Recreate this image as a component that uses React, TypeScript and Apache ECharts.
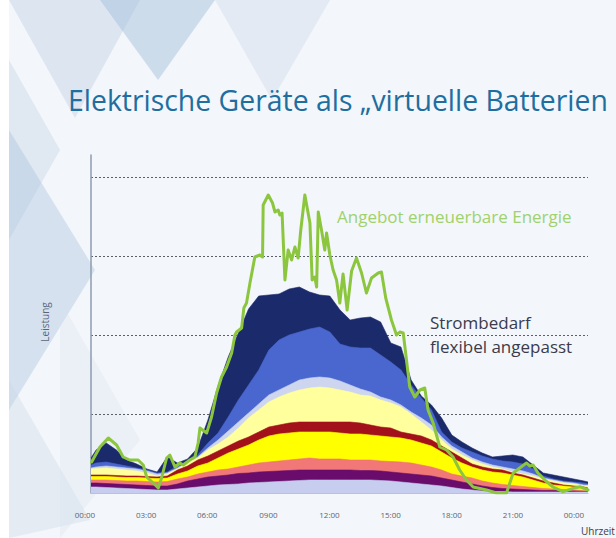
import React, { useEffect, useRef } from "react";
import * as echarts from "echarts";

// time of day in hours for the stacked demand layers
const HOURS = [0.25, 0.5, 1, 1.5, 2, 2.5, 3, 3.5, 4, 4.5, 5, 5.5, 6, 6.5, 7, 7.5, 8, 8.5, 9, 9.5, 10, 10.5, 11, 11.5, 12, 12.5, 13, 13.5, 14, 14.5, 15, 15.5, 16, 16.5, 17, 17.5, 18, 18.5, 19, 19.5, 20, 20.5, 21, 21.5, 22, 22.5, 23, 23.5, 24, 24.5, 24.7];

// cumulative demand (top edge of each layer), arbitrary power units
const L9_NAVY = [35, 43, 50, 43, 33, 29, 24, 21, 36, 30, 34, 45, 73, 107, 136, 160, 184, 197, 198, 199, 204, 206, 201, 198, 197, 183, 173, 175, 176, 171, 150, 146, 113, 97, 88, 75, 58, 51, 45, 40, 36, 37, 38, 36, 28, 20, 18, 16, 14, 12, 11];
const L8_BLUE = [28, 30, 31, 29, 27, 25, 23, 20, 21, 27, 32, 38, 50, 60, 76, 93, 108, 123, 143, 153, 158, 161, 164, 166, 161, 149, 146, 145, 145, 138, 131, 123, 108, 95, 83, 61, 51, 45, 41, 37, 34, 32, 31, 29, 24, 17, 14, 12, 11, 10, 9];
const L7_PALEBLUE = [25, 26, 27, 26, 25, 24, 22, 19, 20, 25, 31, 36, 45, 53, 62, 71, 80, 89, 98, 103, 108, 113, 115, 116, 115, 112, 108, 104, 101, 96, 93, 88, 81, 75, 68, 56, 47, 41, 35, 31, 28, 26, 24, 22, 19, 15, 13, 11, 10, 8, 8];
const L6_PALEYELLOW = [24, 24.5, 25, 24, 23, 22, 20, 17, 19, 24, 30, 35, 43, 49, 56, 65, 75, 83, 91, 96, 100, 103, 105, 106, 105, 103, 101, 98, 97, 93, 90, 86, 79, 71, 63, 53, 44, 38, 33, 29, 26, 24, 21, 19, 17, 14, 12, 10, 9, 7, 7];
const L5_DARKRED = [18, 18, 18, 17.5, 17, 17, 16.5, 16, 17, 23, 27, 33, 37, 42, 47, 52, 56, 61, 66, 68, 70, 71, 71, 71, 71, 71, 71, 70, 68, 66, 65, 61, 59, 57, 53, 47, 41, 35, 29, 26, 24, 23, 20, 18, 15, 12, 10, 8, 7, 6, 5];
const L4_YELLOW = [16.5, 16.5, 16.5, 16, 15.5, 15.5, 15, 14.5, 15, 19, 22, 27, 30, 35, 40, 44, 48, 53, 57, 59, 60, 61, 61, 61, 61, 60, 59, 59, 58, 57, 56, 55, 53, 50, 47, 41, 35, 30, 26, 23, 21, 20, 18, 16, 13, 10, 8, 7, 6, 4.5, 4];
const L3_SALMON = [13, 13, 13, 12.5, 12, 12, 11.5, 11, 11.5, 14, 16, 19, 21, 23, 24, 26, 28, 30, 31, 32, 33, 34, 35, 34, 34, 34, 33, 33, 33, 32, 31.5, 31, 30, 28, 26, 23, 19, 17, 15, 12, 10, 8.5, 7.5, 6.5, 5.5, 4.5, 4, 3.5, 3, 2.5, 2];
const L2_PURPLE = [10, 10, 9.5, 9, 8.5, 8, 7.5, 7, 7, 9, 12, 14, 16, 17, 18, 19.5, 20, 21, 21.5, 22, 22.5, 23, 23, 23, 23, 23, 23, 22.5, 22.5, 22, 21, 20, 19, 18, 17, 15, 13, 11, 9, 7, 5.5, 4.5, 4, 3.5, 3, 2.5, 2.5, 2, 2, 1.5, 1.5];
const L1_LAVENDER = [6, 6, 5.5, 5, 4.5, 4, 3.5, 3, 3, 4, 5, 6, 7, 8, 8.5, 9, 10, 10.5, 11, 11.5, 12, 12.5, 13, 13, 13, 13, 13, 13, 13, 12.5, 12, 11, 10, 9, 8, 7, 5.5, 4, 3, 2, 1.5, 1.5, 1, 1, 1, 1, 1, 1, 1, 1, 1];

// renewable supply
const SUPPLY_HOURS = [0.28, 0.69, 1.1, 1.51, 1.83, 2.16, 2.57, 2.82, 2.99, 3.31, 3.56, 3.72, 3.97, 4.13, 4.38, 4.62, 4.79, 5.11, 5.36, 5.52, 5.61, 5.94, 6.18, 6.43, 6.67, 6.92, 7.17, 7.33, 7.41, 7.66, 7.77, 7.9, 8.07, 8.31, 8.56, 8.69, 8.72, 8.97, 9.18, 9.3, 9.46, 9.54, 9.65, 9.79, 9.95, 10.12, 10.28, 10.44, 10.57, 10.77, 11.02, 11.13, 11.26, 11.35, 11.43, 11.59, 11.75, 11.84, 12.0, 12.16, 12.33, 12.49, 12.65, 12.85, 13.07, 13.31, 13.56, 13.8, 14.05, 14.38, 14.54, 14.75, 15.03, 15.28, 15.44, 15.61, 15.77, 15.93, 16.18, 16.43, 16.67, 16.83, 17.08, 17.41, 17.74, 18.06, 18.39, 18.72, 19.05, 19.71, 20.2, 20.69, 21.02, 21.34, 21.67, 21.84, 22.0, 22.24, 22.57, 22.98, 23.47, 23.97, 24.3, 24.7];
const SUPPLY = [31, 46, 55, 48, 36, 33, 33, 28, 16, 10, 5, 15, 35, 38, 26, 30, 28, 33, 36, 50, 65, 60, 76, 100, 116, 126, 140, 158, 161, 165, 185, 190, 210, 236, 238, 236, 288, 298, 290, 281, 283, 278, 280, 213, 243, 233, 246, 235, 263, 298, 270, 213, 216, 206, 281, 263, 243, 260, 238, 223, 213, 190, 219, 183, 222, 235, 220, 200, 215, 220, 221, 195, 173, 158, 161, 160, 133, 106, 96, 103, 105, 83, 70, 46, 43, 36, 23, 13, 6, 3, 0, 0, 20, 25, 30, 27, 28, 20, 13, 6, 1.3, 4.7, 6.3, 3];

const TICK_LABELS = ["00:00", "03:00", "06:00", "0900", "12:00", "15:00", "18:00", "21:00", "00:00"];

const LAYERS: { data: number[]; color: string }[] = [
  { data: L9_NAVY, color: "#1b2a6b" },
  { data: L8_BLUE, color: "#4a67cf" },
  { data: L7_PALEBLUE, color: "#cdd5ef" },
  { data: L6_PALEYELLOW, color: "#ffff9e" },
  { data: L5_DARKRED, color: "#a3111a" },
  { data: L4_YELLOW, color: "#ffff00" },
  { data: L3_SALMON, color: "#f27777" },
  { data: L2_PURPLE, color: "#6a0c6c" },
  { data: L1_LAVENDER, color: "#c6cdef" },
];

export default function App() {
  const ref = useRef<HTMLDivElement>(null);
  useEffect(() => {
    document.body.style.margin = "0";
    const chart = echarts.init(ref.current!, null, { renderer: "svg" });
    const font = "'Open Sans', 'Noto Sans', sans-serif";
    const layerSeries = LAYERS.map((l, k) => ({
      type: "line",
      xAxisIndex: 0,
      yAxisIndex: 0,
      data: HOURS.map((h, i) => [h, l.data[i]]),
      symbol: "none",
      lineStyle: { width: 0.6, color: l.color },
      areaStyle: { color: l.color, opacity: 1 },
      z: 3 + k,
      silent: true,
    }));
    const bg = (points: number[][], color: string) => ({
      type: "polygon",
      shape: { points },
      style: { fill: color },
      z: -10,
      silent: true,
    });
    chart.setOption({
      animation: false,
      backgroundColor: "#f3f6fa",
      grid: [
        { left: 91, right: 28, top: 155, bottom: 45 },
        { left: 85, right: 42, top: 155, bottom: 45 },
      ],
      xAxis: [
        {
          gridIndex: 0,
          type: "value",
          min: 0.25,
          max: 24.7,
          axisLine: { show: true, lineStyle: { color: "#b9c3d2", width: 1 } },
          axisTick: { show: false },
          axisLabel: { show: false },
          splitLine: { show: false },
        },
        {
          gridIndex: 1,
          type: "value",
          min: 0,
          max: 24,
          interval: 3,
          axisLine: { show: false },
          axisTick: { show: false },
          splitLine: { show: false },
          axisLabel: {
            margin: 17,
            fontSize: 8,
            color: "#60656d",
            fontFamily: font,
            formatter: (v: number) => TICK_LABELS[Math.round(v / 3)] ?? "",
          },
        },
      ],
      yAxis: [
        {
          gridIndex: 0,
          type: "value",
          min: 0,
          max: 338,
          interval: 79,
          axisLine: { show: true, lineStyle: { color: "#8e9cb0", width: 1.5 } },
          axisTick: { show: false },
          axisLabel: { show: false },
          splitLine: {
            show: true,
            showMinLine: false,
            showMaxLine: false,
            lineStyle: { color: "#5b5f66", width: 1, type: [2, 2] },
          },
        },
        { gridIndex: 1, type: "value", show: false, min: 0, max: 338 },
      ],
      series: [
        ...layerSeries,
        {
          type: "line",
          xAxisIndex: 0,
          yAxisIndex: 0,
          data: SUPPLY_HOURS.map((h, i) => [h, SUPPLY[i]]),
          symbol: "none",
          lineStyle: { color: "#8cc63f", width: 3, join: "round", cap: "round" },
          z: 20,
          silent: true,
        },
      ],
      graphic: [
        { type: "rect", shape: { x: 0, y: 0, width: 9, height: 538 }, style: { fill: "#ffffff" }, z: -9, silent: true },
        bg([[9, 0], [140, 0], [75, 118]], "rgba(188,206,228,0.4)"),
        bg([[100, 0], [215, 0], [158, 80]], "rgba(160,188,218,0.45)"),
        bg([[215, 0], [330, 0], [272, 100]], "rgba(205,218,233,0.4)"),
        bg([[9, 60], [60, 150], [9, 240]], "rgba(195,212,230,0.4)"),
        bg([[9, 130], [95, 270], [9, 410]], "rgba(170,195,222,0.4)"),
        bg([[9, 380], [90, 520], [9, 538]], "rgba(200,214,230,0.35)"),
        bg([[60, 300], [140, 440], [60, 538]], "rgba(215,226,238,0.3)"),
        {
          type: "text",
          x: 68,
          y: 100,
          z: 100,
          style: {
            text: "Elektrische Geräte als „virtuelle Batterien",
            fill: "#1e6e9f",
            font: `28.4px ${font}`,
            verticalAlign: "middle",
          },
        },
        {
          type: "text",
          x: 45,
          y: 322,
          rotation: Math.PI / 2,
          z: 100,
          style: {
            text: "Leistung",
            fill: "#5a6678",
            font: `10px ${font}`,
            align: "center",
            verticalAlign: "middle",
          },
        },
        {
          type: "text",
          x: 337,
          y: 216,
          z: 100,
          style: {
            text: "Angebot erneuerbare Energie",
            fill: "#9fd26c",
            font: `17px ${font}`,
            verticalAlign: "middle",
          },
        },
        {
          type: "text",
          x: 430,
          y: 322,
          z: 100,
          style: { text: "Strombedarf", fill: "#3a3b4c", font: `17px ${font}`, verticalAlign: "middle" },
        },
        {
          type: "text",
          x: 430,
          y: 346,
          z: 100,
          style: { text: "flexibel angepasst", fill: "#3a3b4c", font: `17px ${font}`, verticalAlign: "middle" },
        },
        {
          type: "text",
          x: 581,
          y: 531,
          z: 100,
          style: { text: "Uhrzeit", fill: "#3a3b44", font: `10px ${font}`, verticalAlign: "middle" },
        },
      ],
    });
    return () => chart.dispose();
  }, []);
  return <div ref={ref} style={{ width: 616, height: 538 }} />;
}
